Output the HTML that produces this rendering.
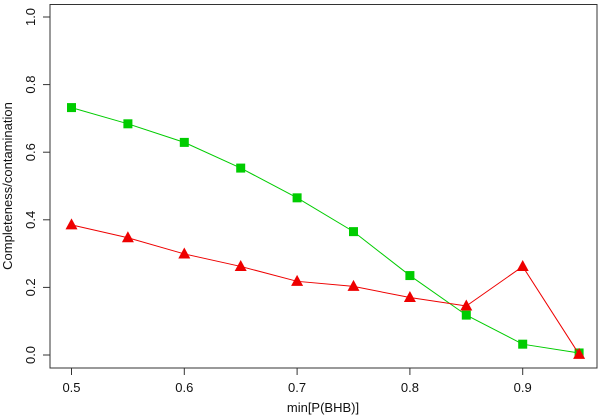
<!DOCTYPE html>
<html><head><meta charset="utf-8"><style>body{margin:0;background:#fff}svg{display:block;font-family:"Liberation Sans",Arial,sans-serif}</style></head>
<body>
<svg id="c" width="600" height="417"></svg>
<script>
const xs=[0.5,0.55,0.6,0.65,0.7,0.75,0.8,0.85,0.9,0.95];
const completeness=[0.732,0.684,0.629,0.553,0.465,0.365,0.235,0.118,0.032,0.006];
const contamination=[0.385,0.347,0.299,0.262,0.218,0.203,0.17,0.145,0.262,0.002];
const xTicks=[0.5,0.6,0.7,0.8,0.9];
const yTicks=[0,0.2,0.4,0.6,0.8,1.0];
const X=v=>71.5+(v-0.5)*1128;
const Y=v=>355-v*338;
const svg=document.getElementById('c');
const NS='http://www.w3.org/2000/svg';
function mk(t,a,p){const e=document.createElementNS(NS,t);for(const k in a)e.setAttribute(k,a[k]);(p||svg).appendChild(e);return e;}
const box=mk('rect',{x:50,y:4.5,width:547,height:363.5,fill:'none',stroke:'#333','stroke-width':1});


xTicks.forEach(v=>{
 const l=mk('line',{x1:X(v),x2:X(v),y1:368,y2:375,stroke:'#333'});
 
 
 const t=mk('text',{x:X(v),y:392,'text-anchor':'middle','font-size':13,fill:'#111'});
 t.textContent=v.toFixed(1);
 
 
});
yTicks.forEach(v=>{
 const l=mk('line',{x1:43,x2:50,y1:Y(v),y2:Y(v),stroke:'#333'});
 
 
 const t=mk('text',{x:0,y:0,'text-anchor':'middle','font-size':13,fill:'#111',transform:`translate(35,${Y(v)}) rotate(-90)`});
 t.textContent=v.toFixed(1);
 
 
});
const xt=mk('text',{x:323,y:412,'text-anchor':'middle','font-size':13,fill:'#111'});
xt.textContent='min[P(BHB)]';


const yt=mk('text',{x:0,y:0,'text-anchor':'middle','font-size':13,fill:'#111',transform:'translate(12,186) rotate(-90)'});
yt.textContent='Completeness/contamination';


function series(vals,color,shape,name){
 const pl=mk('polyline',{points:xs.map((x,i)=>X(x)+','+Y(vals[i])).join(' '),fill:'none',stroke:color,'stroke-width':1});
 
 
 xs.forEach((x,i)=>{
  const cx=X(x),cy=Y(vals[i]);let e;
  if(shape==='sq')e=mk('rect',{x:cx-4.5,y:cy-4.5,width:9,height:9,fill:color});
  else e=mk('polygon',{points:`${cx},${cy-6.5} ${cx-6},${cy+4.5} ${cx+6},${cy+4.5}`,fill:color});
  
  
 });
}
series(completeness,'#00cc00','sq','completeness');
series(contamination,'#ee0000','tri','contamination');
</script>
</body></html>
